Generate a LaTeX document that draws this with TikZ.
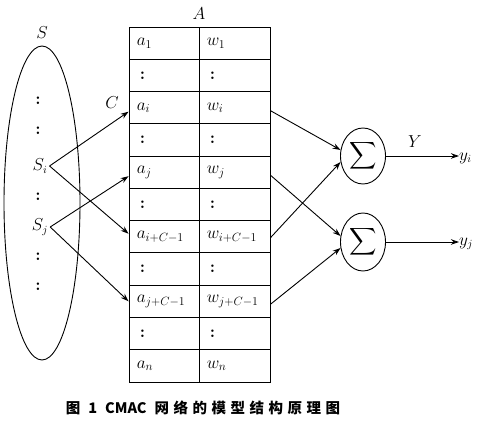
\documentclass[tikz,border=0pt]{standalone}
\usepackage{fontspec}
\newfontfamily\cjk{Noto Sans CJK SC}
\usetikzlibrary{shapes.geometric,arrows.meta}
\begin{document}
\begin{tikzpicture}[x=1pt,y=-1pt,
  cell/.style={draw, minimum width=70pt, minimum height=32.27pt, inner sep=0, line width=0.9pt},
  ctext/.style={anchor=west, inner sep=0, font=\fontsize{17}{19}\selectfont},
  dots/.style={inner sep=0, font=\fontsize{17}{19}\selectfont\bfseries},
  lbl/.style={inner sep=1pt, font=\fontsize{16}{18}\selectfont},
  arr/.style={-{Stealth[length=8pt,width=5.5pt]}, line width=0.9pt},
  ln/.style={line width=0.9pt},
  sig/.style={draw, ellipse, minimum width=45pt, inner sep=0, ln}]
\useasboundingbox (0,0) rectangle (479,427);
% table
\foreach \i in {0,...,10}{
  \node[cell] (L\i) at (164,{27+32.27*(\i+0.5)}) {};
  \node[cell, minimum width=71pt] (R\i) at (234.5,{27+32.27*(\i+0.5)}) {};
}
\foreach \i/\t/\u in {0/a_1/w_1, 2/a_i/w_i, 4/a_j/w_j, 6/a_{i+C-1}/w_{i+C-1}, 8/a_{j+C-1}/w_{j+C-1}, 10/a_n/w_n}{
  \node[ctext] (ta\i) at ([xshift=8pt]L\i.west) {$\t$};
  \node[ctext] (tw\i) at ([xshift=8pt]R\i.west) {$\u$};
}
\foreach \i in {1,3,5,7,9}{
  \node[dots] (da\i) at ([xshift=14pt]L\i.west) {:};
  \node[dots] (dw\i) at ([xshift=14pt]R\i.west) {:};
}
\node[lbl] (A) at (199,14) {$A$};
% ellipse S
\node[draw, ellipse, minimum width=76pt, minimum height=314pt, inner sep=0, ln] (S) at (42,203) {};
\node[lbl] (Slab) at (42,33) {$S$};
\foreach \y [count=\k] in {101,131,197,257,287}{
  \node[dots] (ds\k) at (38,\y) {:};
}
\node[lbl] (si) at (40,166) {$S_i$};
\node[lbl] (sj) at (40,227) {$S_j$};
\node[lbl] (C) at (112,103) {$C$};
% arrows into table
\draw[arr] ([xshift=1pt]si.east) -- ([yshift=-4pt]L2.west);
\draw[arr] ([xshift=1pt]si.east) -- ([yshift=3pt]L6.west);
\draw[arr] ([xshift=1pt]sj.east) -- ([yshift=-4pt]L4.west);
\draw[arr] ([xshift=1pt]sj.east) -- (L8.west);
% sums
\node[sig, minimum height=56pt] (sig1) at (363,156) {\scalebox{1.9}{$\displaystyle\sum$}};
\node[sig, minimum height=58pt] (sig2) at (363,242) {\scalebox{1.9}{$\displaystyle\sum$}};
\draw[arr] ([yshift=-3pt]R2.east) -- (sig1.165);
\draw[arr] ([yshift=-1pt]R6.east) -- (sig1.195);
\draw[arr] ([yshift=-3pt]R4.east) -- (sig2.165);
\draw[arr] ([yshift=-3pt]R8.east) -- (sig2.195);
% outputs
\node[lbl, anchor=west, inner sep=0] (yi) at (459,158) {$y_i$};
\node[lbl, anchor=west, inner sep=0] (yj) at (459,244) {$y_j$};
\draw[arr] (sig1.east) -- (sig1.east -| yi.west);
\draw[arr] (sig2.east) -- (sig2.east -| yj.west);
\node[lbl] (Y) at (415,142) {$Y$};
% caption
\node[inner sep=0, font=\cjk\bfseries\fontsize{14.5}{16}\selectfont] (cap) at (203,408)
  {图\hspace{8pt}1\hspace{8pt}CMAC\hspace{8pt}网\hspace{4.5pt}络\hspace{4.5pt}的\hspace{4.5pt}模\hspace{4.5pt}型\hspace{4.5pt}结\hspace{4.5pt}构\hspace{4.5pt}原\hspace{4.5pt}理\hspace{4.5pt}图};
\end{tikzpicture}
\end{document}
